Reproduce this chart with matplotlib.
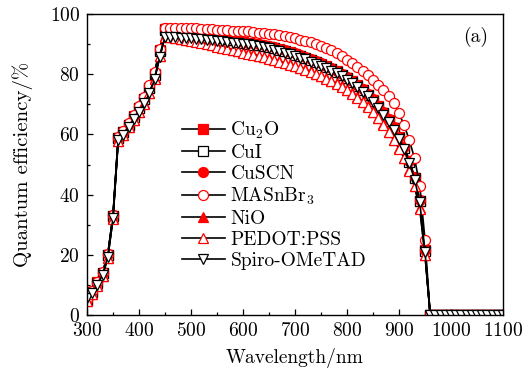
import matplotlib
matplotlib.use("Agg")
import matplotlib.pyplot as plt
from matplotlib.ticker import MultipleLocator

plt.rcParams['font.family'] = 'serif'
plt.rcParams['font.serif'] = ['cmr10']
plt.rcParams['mathtext.fontset'] = 'cm'
plt.rcParams['axes.formatter.use_mathtext'] = True
plt.rcParams['axes.unicode_minus'] = False

wavelength = list(range(300, 1101, 10))

zero_tail = [0, 0, 0, 0, 0, 0, 0, 0, 0, 0, 0, 0, 0, 0, 0]

cu2o = [5.0, 7.8, 10.8, 14.0, 20.0, 33.0, 58.8, 60.8, 63.2, 66.0, 68.8, 71.8, 75.5, 80.0, 88.0,
        95.0, 94.8, 94.6, 94.4, 94.2, 94.0, 93.7, 93.4, 93.1, 92.8, 92.5, 92.2, 91.8, 91.4, 91.0,
        90.6, 90.3, 90.0, 89.8, 89.5,
        89.2, 88.8, 88.3, 87.8, 87.3, 86.7, 86.1, 85.5, 84.8, 84.1, 83.4, 82.6, 81.8, 80.9, 79.9,
        78.8, 77.6, 76.3, 74.8, 73.2, 71.4, 69.4, 67.2, 64.8, 62.2, 59.1, 55.6, 51.1, 45.6, 38.0,
        21.5] + zero_tail
cui = [5.1, 7.7, 10.7, 13.9, 19.9, 32.9, 58.7, 60.7, 63.1, 65.9, 68.7, 71.7, 75.4, 79.9, 87.8,
       94.8, 94.6, 94.4, 94.2, 94.0, 93.8, 93.5, 93.2, 92.9, 92.6, 92.3, 92.0, 91.6, 91.2, 90.8,
       90.4, 90.1, 89.8, 89.6, 89.3,
       89.0, 88.6, 88.1, 87.6, 87.1, 86.5, 85.9, 85.3, 84.6, 83.9, 83.2, 82.4, 81.6, 80.7, 79.7,
       78.6, 77.4, 76.1, 74.6, 73.0, 71.2, 69.2, 67.0, 64.6, 62.0, 58.9, 55.4, 50.9, 45.4, 37.8,
       21.3] + zero_tail
cuscn = [5.1, 7.9, 10.9, 14.1, 20.1, 33.1, 58.9, 60.9, 63.4, 66.2, 69.0, 72.0, 75.8, 80.3, 88.2,
         95.2, 95.0, 94.8, 94.6, 94.4, 94.2, 93.9, 93.6, 93.3, 93.0, 92.7, 92.4, 92.0, 91.6, 91.2,
         90.8, 90.5, 90.2, 90.0, 89.7,
         89.4, 89.0, 88.5, 88.0, 87.5, 86.9, 86.3, 85.7, 85.0, 84.3, 83.6, 82.8, 82.0, 81.1, 80.1,
         79.0, 77.8, 76.5, 75.0, 73.4, 71.6, 69.6, 67.4, 65.0, 62.4, 59.3, 55.8, 51.3, 45.8, 38.2,
         21.7] + zero_tail
masnbr3 = [5.2, 8.0, 11.0, 14.3, 20.2, 33.2, 59.0, 61.2, 63.8, 66.5, 69.5, 72.5, 76.3, 80.8, 88.5,
           95.5, 95.5, 95.4, 95.4, 95.3, 95.3, 95.2, 95.1, 95.0, 94.9, 94.8, 94.7, 94.6, 94.5, 94.4,
           94.3, 94.2, 94.0, 93.8, 93.6, 93.4, 93.2, 92.9, 92.6, 92.3, 91.9, 91.5, 91.1, 90.6, 90.1,
           89.5, 88.8, 88.0, 87.1, 86.0, 84.8, 83.7, 82.5, 81.1, 79.7, 78.2, 76.5, 74.7, 72.7, 70.3,
           67.0, 63.0, 58.0, 52.0, 43.0, 25.0] + zero_tail
nio = [4.6, 7.1, 9.9, 13.1, 19.1, 32.1, 57.9, 59.8, 62.4, 64.9, 67.4, 70.3, 73.8, 78.6, 86.2,
       92.7, 92.4, 92.1, 91.8, 91.5, 91.2, 90.9, 90.6, 90.2, 89.8, 89.4, 89.0, 88.6, 88.2, 87.8,
       87.4, 87.0, 86.6, 86.2, 85.8, 85.3, 84.8, 84.3, 83.8, 83.3, 82.8, 82.2, 81.6, 80.9, 80.2,
       79.5, 78.7, 77.9, 77.0, 76.0, 74.9, 73.7, 72.4, 70.9, 69.3, 67.5, 65.5, 63.3, 60.9, 58.3,
       55.5, 52.3, 48.2, 42.9, 35.4, 20.0] + zero_tail
pedot = [4.5, 7.0, 9.8, 13.0, 19.0, 32.0, 57.8, 59.7, 62.3, 64.8, 67.3, 70.2, 73.7, 78.5, 86.0,
         92.5, 92.2, 91.9, 91.6, 91.3, 91.0, 90.7, 90.4, 90.0, 89.6, 89.2, 88.8, 88.4, 88.0, 87.6,
         87.2, 86.8, 86.4, 86.0, 85.6, 85.1, 84.6, 84.1, 83.6, 83.1, 82.6, 82.0, 81.4, 80.7, 80.0,
         79.3, 78.5, 77.7, 76.8, 75.8, 74.7, 73.5, 72.2, 70.7, 69.1, 67.3, 65.3, 63.1, 60.7, 58.1,
         55.3, 52.1, 48.0, 42.7, 35.2, 19.8] + zero_tail
spiro = [5.5, 7.3, 10.0, 13.3, 19.4, 32.2, 58.0, 59.8, 62.6, 65.0, 67.5, 70.3, 73.6, 78.3, 85.6,
         92.5, 92.4, 92.3, 92.1, 92.0, 91.9, 91.7, 91.6, 91.4, 91.3, 91.1, 90.9, 90.7, 90.5, 90.3,
         90.1, 89.9, 89.6, 89.3, 89.0, 88.6, 88.2, 87.7, 87.2, 86.7, 86.1, 85.5, 84.9, 84.2, 83.5,
         82.8, 82.0, 81.2, 80.3, 79.3, 78.2, 77.0, 75.7, 74.2, 72.6, 70.8, 68.8, 66.6, 64.2, 61.6,
         58.5, 55.0, 50.5, 45.0, 37.5, 21.0] + zero_tail

labels = ['Cu$_2$O', 'CuI', 'CuSCN', 'MASnBr$_3$', 'NiO', 'PEDOT:PSS', 'Spiro-OMeTAD']
series = [cu2o, cui, cuscn, masnbr3, nio, pedot, spiro]
markers = ['s', 's', 'o', 'o', '^', '^', 'v']
faces = ['red', 'white', 'red', 'white', 'red', 'white', 'white']
edges = ['red', 'black', 'red', 'red', 'red', 'red', 'black']

FS = 14

fig = plt.figure(figsize=(5.32, 3.76), dpi=100)
ax = fig.add_axes([87/532, 1-315/376, 416/532, 301/376])

for y, lab, m, fc, ec in zip(series, labels, markers, faces, edges):
    ax.plot(wavelength, y, color='black', lw=1.2, marker=m, markersize=7.2,
            markerfacecolor=fc, markeredgecolor=ec, markeredgewidth=0.9, label=lab)

ax.set_xlim(300, 1100)
ax.set_ylim(0, 100)
ax.xaxis.set_major_locator(MultipleLocator(100))
ax.xaxis.set_minor_locator(MultipleLocator(50))
ax.yaxis.set_major_locator(MultipleLocator(20))
ax.yaxis.set_minor_locator(MultipleLocator(10))
ax.tick_params(which='both', direction='in', top=False, right=False, labelsize=FS, width=0.9, pad=5)
ax.tick_params(which='major', length=4)
ax.tick_params(which='minor', length=2.5)
for s in ax.spines.values():
    s.set_linewidth(1.0)

ax.set_xlabel('Wavelength/nm', fontsize=FS, labelpad=6)
ax.set_ylabel('Quantum efficiency/%', fontsize=15, labelpad=12)
ax.text(0.965, 0.925, '(a)', transform=ax.transAxes, ha='right', va='center', fontsize=FS)

ax.legend(loc='upper left', bbox_to_anchor=(0.228, 0.648), frameon=False, fontsize=FS,
          handlelength=2.2, handletextpad=0.3, labelspacing=0.15, borderaxespad=0, borderpad=0)

fig.savefig('out.png', dpi=100)
